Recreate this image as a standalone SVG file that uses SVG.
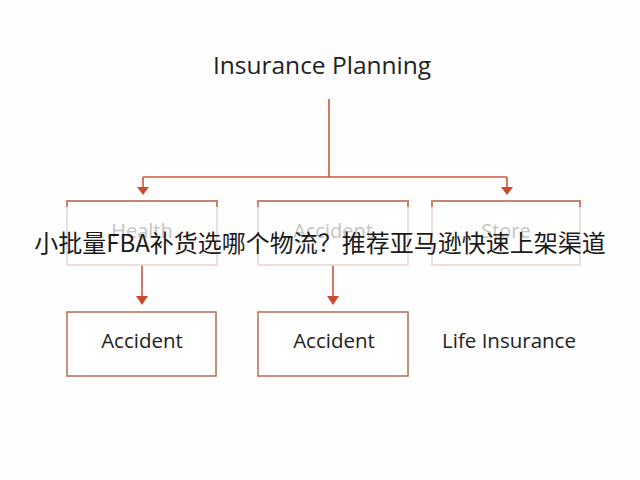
<svg xmlns="http://www.w3.org/2000/svg" width="640" height="480" viewBox="0 0 640 480">
<defs>
<style>
.t{font-family:"Open Sans","Noto Sans",sans-serif;fill:#222;text-anchor:middle}
.faded{font-family:"Open Sans","Noto Sans",sans-serif;fill:#c4c4c4;text-anchor:middle;font-size:20px}
.box{fill:#fff;stroke:#c0735e;stroke-width:1.6}
.fbox{fill:#fff;stroke:#ecd8d2;stroke-width:1.6}
.ftop{stroke:#c78473;stroke-width:2}
.c{stroke:#c8563c;stroke-width:1.6;fill:none}
.ah{fill:#cc4a2e}
.cjk{font-family:"Noto Sans CJK SC","Noto Sans",sans-serif;fill:#1a1a1a;font-size:24px;text-anchor:middle}
</style>
</defs>
<rect width="640" height="480" fill="#fefefe"/>
<g id="root"><text class="t" x="322" y="74" font-size="24.5">Insurance Planning</text></g>
<g id="connectors">
<path class="c" d="M329,99 V177"/>
<path class="c" d="M143,177 H507"/>
<path class="c" d="M143,177 V194"/>
<path class="c" d="M507,177 V194"/>
<path class="ah" d="M137,187 L149,187 L143,195 Z"/>
<path class="ah" d="M501,187 L513,187 L507,195 Z"/>
<path class="c" d="M142,265 V302"/>
<path class="c" d="M333,265 V302"/>
<path class="ah" d="M136,296 L148,296 L142,305 Z"/>
<path class="ah" d="M327,296 L339,296 L333,305 Z"/>
</g>
<g id="health">
<rect class="fbox" x="67" y="201" width="150" height="64"/>
<path class="ftop" d="M67,201 H217 M67,200 V207 M217,200 V207"/>
<text class="faded" x="142" y="238">Health</text>
</g>
<g id="accident-top">
<rect class="fbox" x="258" y="201" width="150" height="64"/>
<path class="ftop" d="M258,201 H408 M258,200 V207 M408,200 V207"/>
<text class="faded" x="333" y="238">Accident</text>
</g>
<g id="store">
<rect class="fbox" x="432" y="201" width="148" height="64"/>
<path class="ftop" d="M432,201 H580 M432,200 V207 M580,200 V207"/>
<text class="faded" x="506" y="238">Store</text>
</g>
<g id="accident-left">
<rect class="box" x="67" y="312" width="149" height="64"/>
<text class="t" x="142" y="348" font-size="20.5">Accident</text>
</g>
<g id="accident-mid">
<rect class="box" x="258" y="312" width="150" height="64"/>
<text class="t" x="334" y="348" font-size="20.5">Accident</text>
</g>
<g id="life"><text class="t" x="509" y="348" font-size="20.5">Life Insurance</text></g>
<text class="cjk" x="320" y="252">小批量FBA补货选哪个物流？推荐亚马逊快速上架渠道</text>
</svg>
